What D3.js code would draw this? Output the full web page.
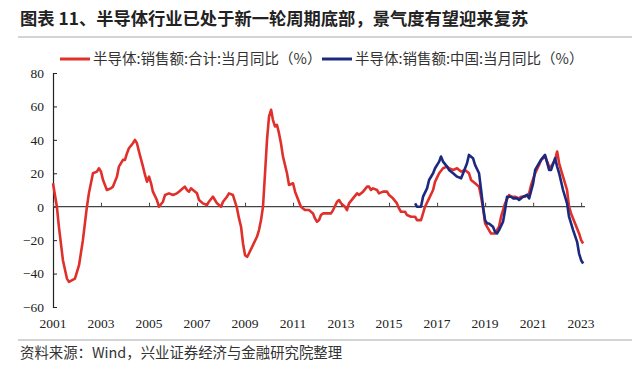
<!DOCTYPE html>
<html>
<head>
<meta charset="utf-8">
<script src="https://cdn.jsdelivr.net/npm/d3@7"></script>
<style>
  body { margin: 0; background: #fff; }
  svg { display: block; }
</style>
</head>
<body>
<svg width="640" height="370"></svg>
<script>
// tick labels
var yearTicks = ["2001","2003","2005","2007","2009","2011","2013","2015","2017","2019","2021","2023"];
var yTicks = [-60, -40, -20, 0, 20, 40, 60, 80];

// global semiconductor sales, yoy %
var totalDates = ["2001-01","2001-03","2001-04","2001-06","2001-08","2001-09","2001-12","2002-02","2002-04","2002-06",
  "2002-07","2002-09","2002-11","2002-12","2003-01","2003-02","2003-04","2003-06","2003-07","2003-09",
  "2003-10","2003-12","2004-01","2004-02","2004-03","2004-05","2004-06","2004-07","2004-08","2004-10",
  "2004-11","2004-12","2005-01","2005-02","2005-03","2005-05","2005-06","2005-08","2005-09","2005-11",
  "2006-01","2006-03","2006-04","2006-06","2006-07","2006-08","2006-09","2006-10","2006-11","2007-01",
  "2007-02","2007-04","2007-06","2007-07","2007-09","2007-10","2007-11","2008-01","2008-02","2008-04",
  "2008-05","2008-07","2008-08","2008-09","2008-10","2008-11","2008-12","2009-01","2009-02","2009-03",
  "2009-05","2009-07","2009-08","2009-09","2009-10","2009-11","2009-12","2010-01","2010-02","2010-03",
  "2010-04","2010-05","2010-06","2010-07","2010-08","2010-10","2010-11","2011-01","2011-02","2011-04",
  "2011-05","2011-07","2011-09","2011-11","2011-12","2012-01","2012-02","2012-03","2012-04","2012-06",
  "2012-08","2012-09","2012-11","2012-12","2013-01","2013-03","2013-04","2013-05","2013-07","2013-09",
  "2013-10","2013-12","2014-02","2014-03","2014-04","2014-05","2014-07","2014-08","2014-10","2014-12",
  "2015-01","2015-03","2015-05","2015-06","2015-07","2015-09","2015-10","2015-12","2016-02","2016-03",
  "2016-05","2016-06","2016-07","2016-09","2016-11","2016-12","2017-02","2017-04","2017-06","2017-07",
  "2017-09","2017-11","2017-12","2018-01","2018-03","2018-05","2018-06","2018-08","2018-10","2018-11",
  "2018-12","2019-01","2019-03","2019-04","2019-06","2019-08","2019-09","2019-11","2020-01","2020-02",
  "2020-04","2020-06","2020-07","2020-09","2020-11","2020-12","2021-02","2021-04","2021-05","2021-07",
  "2021-09","2021-10","2021-12","2022-01","2022-02","2022-03","2022-04","2022-06","2022-07","2022-08",
  "2022-10","2022-12","2023-01","2023-02"];
var totalValues = [14,0,-12,-32,-43,-45,-43,-35,-20,0,
  8,20,21,23,21,16,10,11,12,18,
  24,28,28,32,35,38,40,38,33,24,
  19,15,18,14,9,4,0,3,7,8,
  7,8,9,11,12,10,9,11,10,8,
  4,2,1,3,6,4,2,0,3,6,
  8,7,3,-1,-7,-12,-22,-29,-30,-28,
  -23,-18,-14,-8,0,20,40,54,58,52,
  48,49,44,38,30,20,13,14,9,3,
  0,-2,-2,-4,-7,-9,-8,-5,-4,-4,
  -4,-2,3,4,2,0,-2,2,5,8,
  7,9,12,12,10,11,10,8,9,9,
  7,5,2,-1,-3,-3,-5,-6,-6,-8,
  -8,-4,0,5,10,15,20,23,24,23,
  22,23,22,21,22,20,16,14,12,6,
  -1,-10,-14,-16,-16,-12,-6,2,7,6,
  6,5,6,6,8,13,20,25,28,30,
  24,24,28,33,26,22,18,10,0,-4,
  -10,-16,-20,-22];

// China semiconductor sales, yoy %
var chinaDates = ["2016-02","2016-03","2016-05","2016-06","2016-08","2016-09","2016-11","2016-12","2017-02","2017-03",
  "2017-04","2017-06","2017-07","2017-09","2017-11","2018-01","2018-02","2018-04","2018-05","2018-07",
  "2018-08","2018-10","2018-11","2018-12","2019-01","2019-02","2019-03","2019-05","2019-06","2019-07",
  "2019-08","2019-10","2019-11","2019-12","2020-02","2020-03","2020-05","2020-06","2020-08","2020-10",
  "2020-11","2021-01","2021-02","2021-04","2021-05","2021-07","2021-09","2021-10","2021-12","2022-01",
  "2022-02","2022-04","2022-06","2022-07","2022-09","2022-11","2022-12","2023-01","2023-02"];
var chinaValues = [2,0,0,6,11,16,20,23,27,30,
  27,24,22,20,18,17,20,26,31,29,
  25,20,10,0,-8,-10,-10,-12,-15,-16,
  -14,-9,-2,6,6,5,5,4,6,7,
  5,14,22,26,28,31,22,22,29,24,
  20,10,2,-6,-14,-21,-28,-32,-34];

var seriesNames = ["半导体:销售额:合计:当月同比（%）", "半导体:销售额:中国:当月同比（%）"];
var seriesColors = ["#e0302b", "#1b2a80"];

var svg = d3.select("svg"),
    width = +svg.attr("width"),
    height = +svg.attr("height");

var parse = d3.timeParse("%Y-%m");

var x = d3.scaleTime()
    .domain([parse("2001-01"), parse("2023-03")])
    .range([53, 585]);

var y = d3.scaleLinear()
    .domain([-60, 80])
    .range([307, 73]);

var cjk = "'Noto Sans CJK SC', sans-serif";
var serif = "'Liberation Serif', 'Times New Roman', serif";

// title + rules
svg.append("text")
    .attr("x", 20)
    .attr("y", 25)
    .attr("font-family", cjk)
    .attr("font-weight", "bold")
    .attr("font-size", 17.3)
    .attr("fill", "#222")
    .text("图表 11、半导体行业已处于新一轮周期底部，景气度有望迎来复苏");

svg.append("line")
    .attr("x1", 18).attr("x2", 632)
    .attr("y1", 37).attr("y2", 37)
    .attr("stroke", "#aaa").attr("stroke-width", 1);

svg.append("line")
    .attr("x1", 18).attr("x2", 632)
    .attr("y1", 340).attr("y2", 340)
    .attr("stroke", "#aaa").attr("stroke-width", 1);

svg.append("text")
    .attr("x", 20)
    .attr("y", 358)
    .attr("font-family", cjk)
    .attr("font-size", 14.4)
    .attr("fill", "#333")
    .text("资料来源：Wind，兴业证券经济与金融研究院整理");

// legend
var legend = svg.append("g").attr("font-family", cjk).attr("font-size", 14.5).attr("fill", "#333");
var legendX = [60, 322];
seriesNames.forEach(function(name, i) {
  legend.append("line")
      .attr("x1", legendX[i]).attr("x2", legendX[i] + 30)
      .attr("y1", 59).attr("y2", 59)
      .attr("stroke", seriesColors[i]).attr("stroke-width", 3);
  legend.append("text")
      .attr("x", legendX[i] + 33)
      .attr("y", 64)
      .text(name);
});

// y axis
var yAxis = svg.append("g")
    .attr("transform", "translate(53,0)")
    .call(d3.axisRight(y).tickValues(yTicks).tickSize(4).tickFormat(d3.format("d")));
yAxis.select(".domain").attr("stroke", "#222").attr("stroke-width", 1.2);
yAxis.selectAll(".tick line").attr("stroke", "#222");
yAxis.selectAll(".tick text")
    .attr("x", -9)
    .attr("text-anchor", "end")
    .attr("font-family", serif)
    .attr("font-size", 13.5)
    .attr("fill", "#222");

// x axis on the zero line, ticks pointing up
var xAxis = svg.append("g")
    .attr("transform", "translate(0," + y(0) + ")")
    .call(d3.axisTop(x).tickValues(yearTicks.map(function(d) { return parse(d + "-01"); })).tickSize(4).tickFormat(""));
xAxis.select(".domain").attr("stroke", "#444").attr("stroke-width", 1.2).attr("d", "M53,0H585");
xAxis.selectAll(".tick line").attr("stroke", "#444");

svg.append("g")
  .selectAll("text")
  .data(yearTicks)
  .enter().append("text")
    .attr("x", function(d) { return x(parse(d + "-01")); })
    .attr("y", 328)
    .attr("text-anchor", "middle")
    .attr("font-family", serif)
    .attr("font-size", 13.5)
    .attr("fill", "#222")
    .text(function(d) { return d; });

// lines
var line = d3.line()
    .x(function(d) { return x(d[0]); })
    .y(function(d) { return y(d[1]); });

var total = totalDates.map(function(d, i) { return [parse(d), totalValues[i]]; });
var china = chinaDates.map(function(d, i) { return [parse(d), chinaValues[i]]; });

svg.append("path")
    .datum(total)
    .attr("fill", "none")
    .attr("stroke", seriesColors[0])
    .attr("stroke-width", 2.6)
    .attr("stroke-linejoin", "round")
    .attr("d", line);

svg.append("path")
    .datum(china)
    .attr("fill", "none")
    .attr("stroke", seriesColors[1])
    .attr("stroke-width", 2.6)
    .attr("stroke-linejoin", "round")
    .attr("d", line);
</script>
</body>
</html>
